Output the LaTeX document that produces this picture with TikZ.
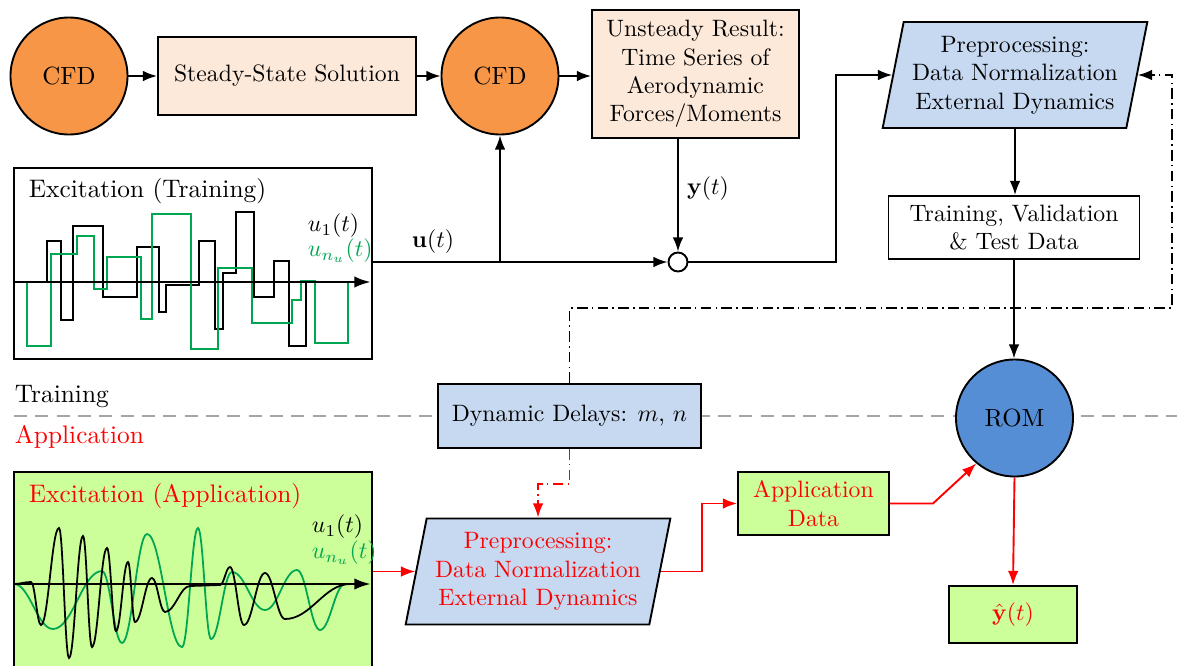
\documentclass[tikz,border=0pt]{standalone}
\usetikzlibrary{arrows.meta,shapes.geometric,calc}
\newdimen\pxu \pxu=0.4219pt
\definecolor{cfdorange}{RGB}{247,150,70}
\definecolor{peach}{RGB}{253,233,217}
\definecolor{paleblue}{RGB}{198,217,241}
\definecolor{romblue}{RGB}{85,142,213}
\definecolor{appgreen}{RGB}{204,255,153}
\definecolor{siggreen}{RGB}{0,166,81}
\definecolor{sepgray}{RGB}{165,165,165}
\tikzset{
  cfd/.style={circle, draw, fill=cfdorange, minimum size=117\pxu, inner sep=0pt,
    font=\fontsize{10.5}{12.6}\selectfont},
  rom/.style={circle, draw, fill=romblue, minimum size=117\pxu, inner sep=0pt,
    font=\fontsize{10.5}{12.6}\selectfont},
  peachbox/.style={rectangle, draw, fill=peach, align=center, inner sep=0pt},
  bluebox/.style={rectangle, draw, fill=paleblue, align=center, inner sep=0pt},
  greenbox/.style={rectangle, draw, fill=appgreen, align=center, inner sep=0pt, text=red},
  plainbox/.style={rectangle, draw, fill=white, align=center, inner sep=0pt},
  para/.style={trapezium, trapezium left angle=76, trapezium right angle=104,
    trapezium stretches=true, draw, fill=paleblue, align=center,
    minimum width=265\pxu, minimum height=106\pxu, inner sep=0pt},
  biglabel/.style={font=\fontsize{10.7}{13}\selectfont, inner sep=0pt, anchor=west},
  siglabel/.style={font=\fontsize{9.9}{12}\selectfont, inner sep=0pt, anchor=west},
  sigbk/.style={line width=0.75pt, black},
  siggn/.style={line width=0.75pt, siggreen},
  axisline/.style={line width=1.2pt, -{Latex[length=7pt,width=4.8pt]}},
  dashdot/.style={dash pattern=on 4.5pt off 1.8pt on 0.6pt off 1.8pt},
  sepline/.style={sepgray, dash pattern=on 5.5pt off 3.5pt, line width=0.6pt},
  wave/.style={to path={.. controls ($(\tikztostart)!0.4!(\tikztotarget |- \tikztostart)$)
      and ($(\tikztotarget)!0.4!(\tikztostart |- \tikztotarget)$) .. (\tikztotarget)}}
}
\begin{document}
\begin{tikzpicture}[x=0.4219pt, y=-0.4219pt, line width=0.8pt,
  >={Latex[length=6pt,width=4.5pt]}]
\useasboundingbox (0,0) rectangle (1177,666);
\path[clip] (0,0) rectangle (1177,666);

% separator between training and application
\draw[sepline] (14,416) -- (1177,416);
\node[biglabel] (trainlbl) at (14,397) {Training};
\node[biglabel, text=red] (applbl) at (14,437) {Application};

% top row
\node[cfd] (cfdA) at (69,76) {CFD};
\node[peachbox, minimum width=258\pxu, minimum height=78\pxu] (steady) at (287,76) {Steady-State Solution};
\node[cfd] (cfdB) at (500,76) {CFD};
\node[peachbox, minimum width=207\pxu, minimum height=128\pxu] (unsteady) at (695.5,74)
  {Unsteady Result:\\Time Series of\\Aerodynamic\\Forces/Moments};
\node[para] (prepT) at (1015,75) {Preprocessing:\\Data Normalization\\External Dynamics};
\node[plainbox, minimum width=251\pxu, minimum height=63\pxu] (train) at (1014,227.5)
  {Training, Validation\\\& Test Data};
\node[rom] (rom) at (1014.5,418) {ROM};
\node[circle, draw, fill=white, minimum size=19\pxu, inner sep=0pt] (junc) at (678,262) {};

% training excitation
\node[draw, fill=white, minimum width=358\pxu, minimum height=191\pxu, inner sep=0pt] (sigT) at (193,263.5) {};
\draw[sigbk] (46.7,282.3) |- (61,241) |- (72.7,320) |- (102.7,226) |- (136.7,296.7)
  |- (159,246.7) |- (165.7,311.7) |- (199,285) |- (215,241) |- (222.7,329.3)
  |- (235.7,273.3) |- (254.3,211.7) |- (274,296.7) |- (289.3,261) |- (305.7,346) -- (305.7,282.3);
\draw[siggn] (26.7,282.3) |- (51,346) |- (77.3,254) |- (94.3,236) |- (107.3,289.3)
  |- (140.7,256.7) |- (152.3,319) |- (190.7,214) |- (217.7,349.3) |- (252.3,268.3)
  |- (291.7,323.3) |- (301,300) |- (315,280.7) |- (348.3,342.7) -- (348.3,282.3);
\draw[axisline] (sigT.west |- 0,282) -- (371,282);
\node[biglabel] (excT) at (28,191) {Excitation (Training)};
\node[siglabel] (u1T) at (307,226) {$u_1(t)$};
\node[siglabel, text=siggreen] (unT) at (307,251) {$u_{n_u}(t)$};

% application excitation
\node[draw, fill=appgreen, minimum width=358\pxu, minimum height=199\pxu, inner sep=0pt] (sigA) at (193,571.5) {};
\draw[siggn] (14,584) to[wave] (53,629) to[wave] (102,571) to[wave] (122,643)
  to[wave] (147,534) to[wave] (182,647) to[wave] (198,528) to[wave] (211,639)
  to[wave] (232,572) to[wave] (265,610) to[wave] (297,570) to[wave] (320,630) to[wave] (345,584);
\draw[sigbk] (14,584) to[wave] (31,582) to[wave] (41,625) to[wave] (59,528) to[wave] (69,658)
  to[wave] (83,536) to[wave] (92,647) to[wave] (107,548) to[wave] (116,631)
  to[wave] (128,562) to[wave] (135,622) to[wave] (152,578) to[wave] (165,612)
  to[wave] (190,586) -- (220,585) to[wave] (230,567) to[wave] (244,625)
  to[wave] (265,573) to[wave] (285,619) to[wave] (350,584);
\draw[axisline] (sigA.west |- 0,584) -- (371,584);
\node[biglabel, text=red] (excA) at (28,496) {Excitation (Application)};
\node[siglabel] (u1A) at (311,527) {$u_1(t)$};
\node[siglabel, text=siggreen] (unA) at (311,553) {$u_{n_u}(t)$};

% lower row
\node[bluebox, minimum width=263\pxu, minimum height=64\pxu] (dyn) at (569.5,416) {Dynamic Delays: $m$, $n$};
\node[para, text=red] (prepB) at (538,571.5) {Preprocessing:\\Data Normalization\\External Dynamics};
\node[greenbox, minimum width=151\pxu, minimum height=63\pxu] (appdata) at (813.5,503.5) {Application\\Data};
\node[greenbox, minimum width=128\pxu, minimum height=57\pxu] (yhat) at (1013,614.5) {$\hat{\mathbf{y}}(t)$};

% training connectors
\draw[->] (cfdA) -- (steady);
\draw[->] (steady) -- (cfdB);
\draw[->] (cfdB.east) -- (cfdB.east -| unsteady.west);
\draw[->] (sigT.east |- junc) -- (junc.west);
\coordinate (branch) at (cfdB.south |- junc);
\draw[->] (branch) -- (cfdB.south);
\node (ulbl) at (433,242) {$\mathbf{u}(t)$};
\draw[->] (junc.north |- unsteady.south) -- (junc.north);
\node (ylbl) at (708,189) {$\mathbf{y}(t)$};
\draw[->] (junc.east) -| ([xshift=-56\pxu]prepT.left side) -- (prepT.left side);
\draw[->] (prepT.south) -- (prepT.south |- train.north);
\draw[->] (train.south) -- (train.south |- rom.north);
\coordinate (fb) at (1172,308);
\draw[dashdot,->] (dyn.north) |- (fb) |- (prepT.right side);

% application connectors
\draw[red,dashdot,->] (dyn.south) -- ++(0,35) -| (prepB.north);
\draw[red,->] (sigA.east) -- (prepB.left side);
\draw[red,->] (prepB.right side) -- ++(41,0) |- (appdata.west);
\draw[red,->] (appdata.east) -- ++(43,0) -- (rom.230);
\draw[red,->] (rom.south) -- (yhat.north);
\end{tikzpicture}
\end{document}
